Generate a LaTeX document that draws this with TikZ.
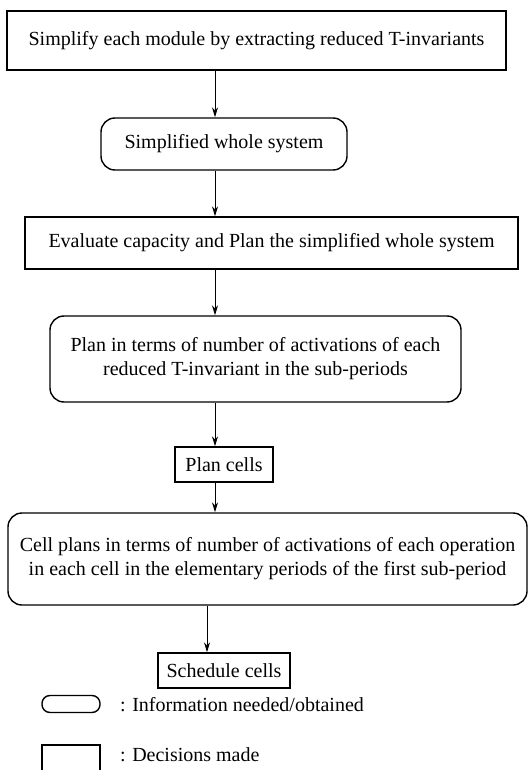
\documentclass[tikz,border=0pt]{standalone}
\usepackage{fontspec}
\setmainfont{Liberation Serif}
\usetikzlibrary{arrows.meta,positioning}

\begin{document}
\begin{tikzpicture}[
  x=0.5pt, y=-0.5pt,
  every node/.style={font=\fontsize{10}{12}\selectfont},
  decbox/.style={draw,line width=0.7pt,inner sep=0pt,align=center},
  infobox/.style={draw,line width=0.7pt,rounded corners=7pt,inner sep=0pt,align=center},
  flow/.style={-{Stealth[length=5pt,width=3pt]},line width=0.5pt},
]
  \useasboundingbox (0,0) rectangle (528,770);
  \coordinate (spine) at (215,0);
  \coordinate (spinelow) at (207,0);

  % Steps
  \node[decbox,minimum width=249.5pt,minimum height=29.5pt] (simplify) at (256.5,40.5)
    {Simplify each module by extracting reduced T-invariants};
  \node[infobox,minimum width=123pt,minimum height=26pt] (whole) at (224,144)
    {Simplified whole system};
  \node[decbox,minimum width=246.5pt,minimum height=26pt] (evaluate) at (271.5,243)
    {Evaluate capacity and Plan the simplified whole system};
  \node[infobox,minimum width=205.5pt,minimum height=43pt] (subplan) at (255.5,359)
    {Plan in terms of number of activations of each\\reduced T-invariant in the sub-periods};
  \node[decbox,minimum width=49pt,minimum height=17.5pt] (plancells) at (224,464.5)
    {Plan cells};
  \node[infobox,minimum width=259.5pt,minimum height=46pt] (cellplans) at (267.5,559)
    {Cell plans in terms of number of activations of each operation\\in each cell in the elementary periods of the first sub-period};
  \node[decbox,minimum width=66pt,minimum height=17.5pt] (schedule) at (224,670.5)
    {Schedule cells};

  % Connectors
  \draw[flow] (simplify.south -| spine) -- (whole.north -| spine);
  \draw[flow] (whole.south -| spine) -- (evaluate.north -| spine);
  \draw[flow] (evaluate.south -| spine) -- (subplan.north -| spine);
  \draw[flow] (subplan.south -| spine) -- (plancells.north -| spine);
  \draw[flow] (plancells.south -| spine) -- (cellplans.north -| spine);
  \draw[flow] (cellplans.south -| spinelow) -- (schedule.north -| spinelow);

  % Legend
  \node[infobox,rounded corners=4pt,minimum width=29pt,minimum height=8.5pt] (leginfo) at (71,704) {};
  \node[anchor=west] (leginfotext) at (113,705) {: Information needed/obtained};
  \node[decbox,minimum width=29pt,minimum height=15pt] (legdec) at (71,760) {};
  \node[anchor=west] (legdectext) at (113,755) {: Decisions made};
\end{tikzpicture}
\end{document}
